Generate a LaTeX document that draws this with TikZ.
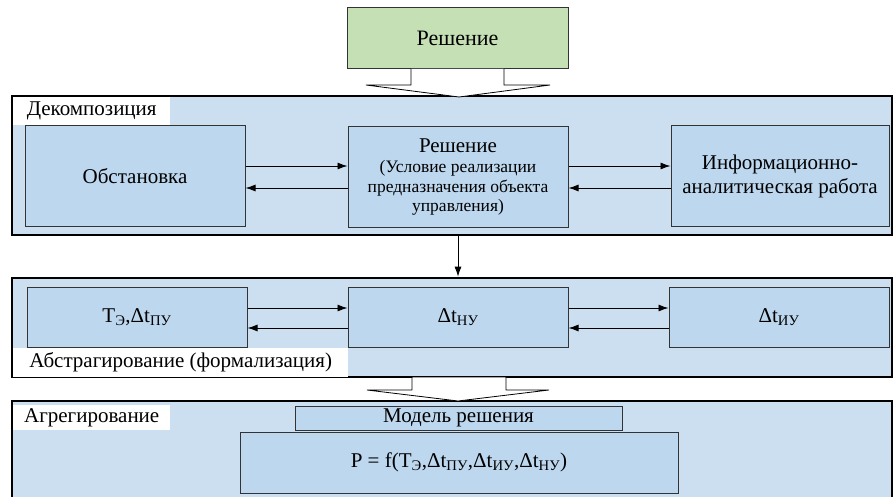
\documentclass[tikz,border=0pt]{standalone}
\usepackage{fontspec}
\setmainfont{LiberationSerif}[Extension=.ttf,UprightFont=*-Regular,BoldFont=*-Bold,ItalicFont=*-Italic,BoldItalicFont=*-BoldItalic]
\usetikzlibrary{arrows.meta}
\definecolor{framebg}{HTML}{CCDFF0}
\definecolor{boxbg}{HTML}{BDD7EE}
\definecolor{greenbg}{HTML}{C5E0B4}
\begin{document}
\begin{tikzpicture}[x=1pt,y=-1pt,
  frame/.style={draw=black, line width=2.6pt, fill=framebg, inner sep=0pt, minimum width=880pt},
  box/.style={draw=black!80, line width=1pt, fill=boxbg, inner sep=0pt, align=center, font=\fontsize{21}{24}\selectfont},
  lbl/.style={fill=white, inner sep=0pt, anchor=north west, font=\fontsize{21}{24}\selectfont},
  conn/.style={line width=0.9pt, -{Latex[length=10pt,width=7pt]}},
  blockarrow/.style={draw=black, line width=0.8pt, fill=white}]
\useasboundingbox (0,0) rectangle (893,497);
\clip (0,0) rectangle (893,497);

% frames
\node[frame, minimum height=139pt] (dec) at (452,165.5) {};
\node[frame, minimum height=99pt] (abs) at (452,327.5) {};
\node[frame, minimum height=110pt] (agg) at (452,456) {};

% top solution box
\node[box, fill=greenbg, minimum width=221pt, minimum height=61pt, font=\fontsize{22}{26}\selectfont] (top) at (457.5,38.5) {Решение};
\draw[blockarrow] (411,69) -- (411,85) -- (366,85) -- (459,97) -- (550,85) -- (504,85) -- (504,69);

% decomposition
\node[lbl, minimum width=157pt, minimum height=28pt] (declbl) at (13,97) {Декомпозиция};
\node[box, minimum width=220pt, minimum height=100pt] (obst) at (135,176) {Обстановка};
\node[box, minimum width=220pt, minimum height=100pt, font=\fontsize{17.5}{19.5}\selectfont] (resh) at (458,177)
  {\fontsize{21}{23}\selectfont Решение\\[1pt]
   (Условие реализации\\ предназначения объекта\\ управления)};
\node[box, minimum width=218pt, minimum height=100pt] (info) at (780,176) {Информационно-\\аналитическая работа};
\draw[conn] (obst.east |- 0,166) -- (resh.west |- 0,166);
\draw[conn] (resh.west |- 0,188) -- (obst.east |- 0,188);
\draw[conn] (resh.east |- 0,166) -- (info.west |- 0,166);
\draw[conn] (info.west |- 0,188) -- (resh.east |- 0,188);

\draw[conn] (resh.south |- dec.south) -- (resh.south |- abs.north);

% abstraction
\node[box, minimum width=220pt, minimum height=60pt] (tpu) at (137,317) {T\textsubscript{Э},Δt\textsubscript{ПУ}};
\node[box, minimum width=220pt, minimum height=60pt] (tnu) at (458,317) {Δt\textsubscript{НУ}};
\node[box, minimum width=220pt, minimum height=60pt] (tiu) at (779,317) {Δt\textsubscript{ИУ}};
\draw[conn] (tpu.east |- 0,308) -- (tnu.west |- 0,308);
\draw[conn] (tnu.west |- 0,328) -- (tpu.east |- 0,328);
\draw[conn] (tnu.east |- 0,308) -- (tiu.west |- 0,308);
\draw[conn] (tiu.west |- 0,328) -- (tnu.east |- 0,328);
\node[lbl, minimum width=335pt, minimum height=29pt] (abslbl) at (13,348) {Абстрагирование (формализация)};

\draw[blockarrow] (412,377) -- (412,390) -- (367,390) -- (458,401) -- (549,390) -- (506,390) -- (506,377) -- cycle;

% aggregation
\node[lbl, minimum width=157pt, minimum height=25pt] (agglbl) at (13,405) {Агрегирование};
\node[box, minimum width=327pt, minimum height=24pt] (model) at (458.5,418) {Модель решения};
\node[box, minimum width=438pt, minimum height=61pt] (formula) at (459,462.5)
  {P = f(T\textsubscript{Э},Δt\textsubscript{ПУ},Δt\textsubscript{ИУ},Δt\textsubscript{НУ})};
\end{tikzpicture}
\end{document}
